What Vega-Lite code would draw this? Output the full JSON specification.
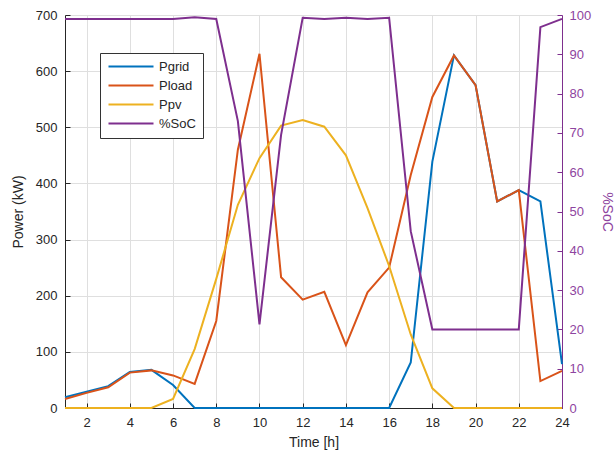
{
  "$schema": "https://vega.github.io/schema/vega-lite/v6.json",
  "width": 497,
  "height": 393,
  "autosize": {"type": "none"},
  "padding": {"left": 65, "top": 15, "right": 54, "bottom": 49},
  "background": "white",
  "config": {
    "view": {"stroke": null},
    "font": "Liberation Sans",
    "axis": {"labelFont": "Liberation Sans", "titleFont": "Liberation Sans", "labelFontSize": 13, "titleFontSize": 14, "titleFontWeight": "normal", "labelColor": "#262626", "titleColor": "#262626", "domainColor": "#262626", "tickColor": "#262626", "gridColor": "#dfdfdf", "gridWidth": 1}
  },
  "data": {
    "values": [
      {"t": 1, "Pgrid": 19, "Pload": 16, "Ppv": 0, "%SoC": 99.0},
      {"t": 2, "Pgrid": 29, "Pload": 27, "Ppv": 0, "%SoC": 99.0},
      {"t": 3, "Pgrid": 39, "Pload": 37, "Ppv": 0, "%SoC": 99.0},
      {"t": 4, "Pgrid": 64, "Pload": 63, "Ppv": 0, "%SoC": 99.0},
      {"t": 5, "Pgrid": 68, "Pload": 67, "Ppv": 0, "%SoC": 99.0},
      {"t": 6, "Pgrid": 41, "Pload": 58, "Ppv": 16, "%SoC": 99.0},
      {"t": 7, "Pgrid": 0, "Pload": 43, "Ppv": 105, "%SoC": 99.4},
      {"t": 8, "Pgrid": 0, "Pload": 155, "Ppv": 230, "%SoC": 99.0},
      {"t": 9, "Pgrid": 0, "Pload": 460, "Ppv": 362, "%SoC": 73.0},
      {"t": 10, "Pgrid": 0, "Pload": 631, "Ppv": 445, "%SoC": 21.3},
      {"t": 11, "Pgrid": 0, "Pload": 233, "Ppv": 503, "%SoC": 69.5},
      {"t": 12, "Pgrid": 0, "Pload": 193, "Ppv": 513, "%SoC": 99.3},
      {"t": 13, "Pgrid": 0, "Pload": 207, "Ppv": 501, "%SoC": 99.0},
      {"t": 14, "Pgrid": 0, "Pload": 112, "Ppv": 450, "%SoC": 99.3},
      {"t": 15, "Pgrid": 0, "Pload": 206, "Ppv": 356, "%SoC": 99.0},
      {"t": 16, "Pgrid": 0, "Pload": 250, "Ppv": 253, "%SoC": 99.3},
      {"t": 17, "Pgrid": 81, "Pload": 415, "Ppv": 131, "%SoC": 45.0},
      {"t": 18, "Pgrid": 439, "Pload": 554, "Ppv": 35, "%SoC": 20.0},
      {"t": 19, "Pgrid": 628, "Pload": 628, "Ppv": 0, "%SoC": 20.0},
      {"t": 20, "Pgrid": 575, "Pload": 575, "Ppv": 0, "%SoC": 20.0},
      {"t": 21, "Pgrid": 368, "Pload": 368, "Ppv": 0, "%SoC": 20.0},
      {"t": 22, "Pgrid": 388, "Pload": 388, "Ppv": 0, "%SoC": 20.0},
      {"t": 23, "Pgrid": 368, "Pload": 48, "Ppv": 0, "%SoC": 96.9},
      {"t": 24, "Pgrid": 78, "Pload": 66, "Ppv": 0, "%SoC": 99.0}
    ]
  },
  "encoding": {
    "x": {
      "field": "t", "type": "quantitative",
      "scale": {"domain": [1, 24], "nice": false, "zero": false},
      "axis": {"title": "Time [h]", "values": [2, 4, 6, 8, 10, 12, 14, 16, 18, 20, 22, 24], "grid": true, "tickSize": -5, "labelPadding": 13, "titlePadding": 6, "labelFlush": false}
    },
    "color": {
      "field": "series", "type": "nominal",
      "scale": {"domain": ["Pgrid", "Pload", "Ppv", "%SoC"], "range": ["#0072BD", "#D95319", "#EDB120", "#7E2F8E"]},
      "legend": {
        "title": null, "orient": "none", "legendX": 35, "legendY": 38,
        "symbolType": "M-1,0H8", "symbolSize": 100, "symbolStrokeWidth": 2,
        "labelFont": "Liberation Sans", "labelFontSize": 13, "labelColor": "#262626",
        "strokeColor": "#333333", "fillColor": "white", "padding": 7, "rowPadding": 5,
        "labelOffset": 39
      }
    }
  },
  "layer": [
    {
      "transform": [{"fold": ["Pgrid", "Pload", "Ppv"], "as": ["series", "value"]}],
      "mark": {"type": "line", "strokeWidth": 2},
      "encoding": {
        "y": {
          "field": "value", "type": "quantitative",
          "scale": {"domain": [0, 700], "nice": false},
          "axis": {"title": "Power (kW)", "values": [0, 100, 200, 300, 400, 500, 600, 700], "grid": true, "tickSize": -5, "labelPadding": 13, "titlePadding": 10}
        }
      }
    },
    {
      "transform": [{"fold": ["%SoC"], "as": ["series", "value"]}],
      "mark": {"type": "line", "strokeWidth": 2},
      "encoding": {
        "y": {
          "field": "value", "type": "quantitative",
          "scale": {"domain": [0, 100], "nice": false},
          "axis": {"orient": "right", "title": "%SoC", "values": [0, 10, 20, 30, 40, 50, 60, 70, 80, 90, 100], "grid": false, "tickSize": -5, "labelPadding": 12, "titlePadding": 9, "labelColor": "#8e44a0", "titleColor": "#8e44a0", "domainColor": "#7E2F8E", "tickColor": "#7E2F8E"}
        }
      }
    }
  ],
  "resolve": {"scale": {"y": "independent"}}
}
